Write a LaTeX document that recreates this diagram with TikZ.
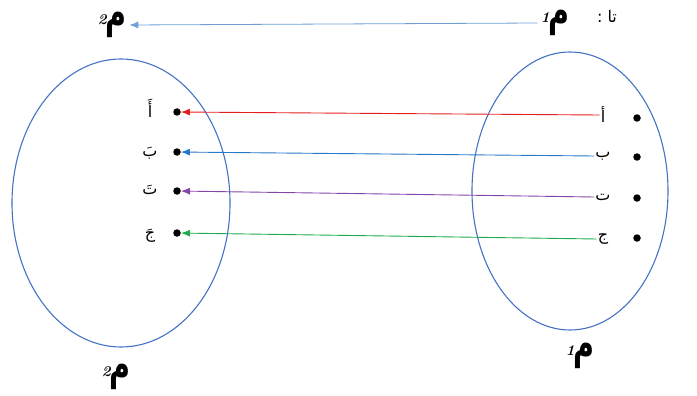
\documentclass[tikz,border=0pt]{standalone}
\usepackage{fontspec}
\newfontfamily\arabicfont[Script=Arabic]{DejaVu Sans}
\TeXXeTstate=1
\usepackage{xcolor}
\usetikzlibrary{arrows.meta, positioning}
\definecolor{bord}{RGB}{68,114,196}
\definecolor{flecheA}{RGB}{230,30,30}
\definecolor{flecheB}{RGB}{40,120,200}
\definecolor{flecheC}{RGB}{130,70,170}
\definecolor{flecheD}{RGB}{30,170,80}
\definecolor{flecheT}{RGB}{110,160,215}
\newcommand{\meem}[1]{\raisebox{3pt}{\fontsize{15}{15}\selectfont\bfseries\itshape #1}\kern-1.5pt\scalebox{1.3}[1.9]{\arabicfont\bfseries\fontsize{22}{22}\selectfont م}}

\begin{document}
\begin{tikzpicture}[x=1pt,y=-1pt,
    pt/.style={circle, fill=black, inner sep=0pt, minimum size=7.5pt},
    lettre/.style={font=\arabicfont\fontsize{16}{16}\selectfont, inner sep=1pt},
    nom/.style={inner sep=0pt},
    fl/.style={-{Latex[length=9pt,width=7pt]}, line width=0.9pt}]
        \useasboundingbox (0,0) rectangle (697,396);
        % Ensembles
        \draw[bord, line width=1.1pt] (121,203) ellipse (109 and 144);
        \draw[bord, line width=1.1pt] (570,191) ellipse (98 and 139);
        % Points a gauche
        \node[pt] (g1) at (177,112) {};
        \node[pt] (g2) at (177,152) {};
        \node[pt] (g3) at (177,191) {};
        \node[pt] (g4) at (177,233) {};
        \node[lettre] (lg1) at (150,108) {\beginR أَ\endR};
        \node[lettre] (lg2) at (150,153) {\beginR بَ\endR};
        \node[lettre] (lg3) at (150,190) {\beginR تَ\endR};
        \node[lettre] (lg4) at (150,236) {\beginR جَ\endR};
        % Points a droite
        \node[pt] (d1) at (637,118) {};
        \node[pt] (d2) at (637,157) {};
        \node[pt] (d3) at (637,198) {};
        \node[pt] (d4) at (637,238) {};
        \node[lettre] (ld1) at (603,115) {\beginR أ\endR};
        \node[lettre] (ld2) at (603,156) {\beginR ب\endR};
        \node[lettre] (ld3) at (603,197) {\beginR ت\endR};
        \node[lettre] (ld4) at (603,239) {\beginR ج\endR};
        % Fleches
        \draw[fl, flecheA] (ld1.west) -- (g1);
        \draw[fl, flecheB] (ld2.west) -- (g2);
        \draw[fl, flecheC] (ld3.west) -- (g3);
        \draw[fl, flecheD] (ld4.west) -- (g4);
        % Noms
        \node[nom] (m2h) at (112,25) {\meem{2}};
        \node[nom] (m1h) at (555,23) {\meem{1}};
        \node[lettre] (ta) at (607,16) {\beginR تا :\endR};
        \node[nom] (m2b) at (116,377) {\meem{2}};
        \node[nom] (m1b) at (580,356) {\meem{1}};
        \draw[fl, flecheT, line width=0.8pt] ([xshift=-3pt]m1h.west) -- ([xshift=3pt]m2h.east);
    \end{tikzpicture}
\end{document}
